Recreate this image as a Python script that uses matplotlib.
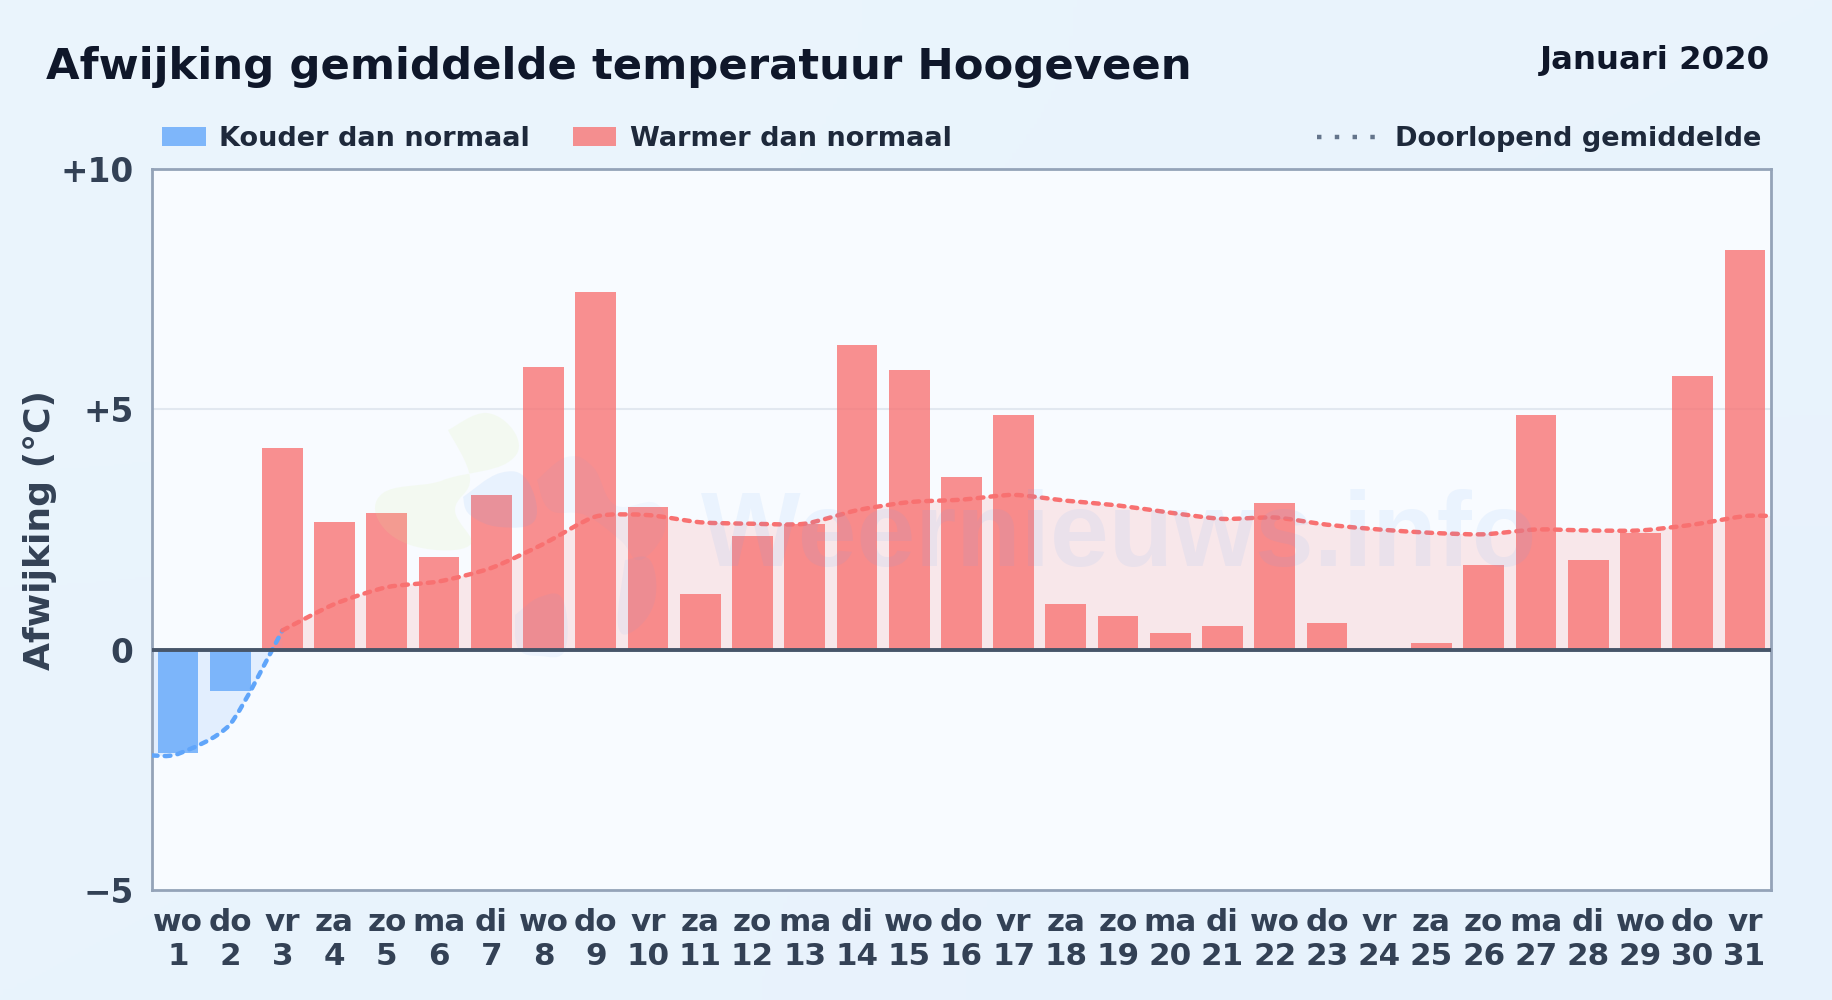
import numpy as np
import matplotlib
matplotlib.use('Agg')
import matplotlib.pyplot as plt
from matplotlib.path import Path
from matplotlib.patches import PathPatch, Rectangle
from matplotlib.lines import Line2D

# data
days = list(range(1, 32))
weekdays = ['wo', 'do', 'vr', 'za', 'zo', 'ma', 'di', 'wo', 'do', 'vr', 'za', 'zo', 'ma', 'di', 'wo', 'do',
            'vr', 'za', 'zo', 'ma', 'di', 'wo', 'do', 'vr', 'za', 'zo', 'ma', 'di', 'wo', 'do', 'vr']
deviation = [-2.16, -0.87, 4.2, 2.65, 2.85, 1.92, 3.22, 5.89, 7.44, 2.97, 1.15, 2.37, 2.62, 6.34, 5.82, 3.6,
             4.89, 0.95, 0.7, 0.35, 0.5, 3.05, 0.55, 0.0, 0.13, 1.77, 4.89, 1.86, 2.42, 5.69, 8.32]
running_x = [0.5] + days + [31.5]
running = [-2.2, -2.17, -1.55, 0.4, 0.95, 1.3, 1.42, 1.7, 2.2, 2.77, 2.8, 2.65, 2.62, 2.62, 2.9, 3.07, 3.12,
           3.22, 3.1, 3.0, 2.85, 2.72, 2.75, 2.6, 2.5, 2.43, 2.4, 2.5, 2.48, 2.48, 2.6, 2.78, 2.78]
yticks = [-5, 0, 5, 10]
ytick_labels = ['\u22125', '0', '+5', '+10']

RED = '#f87171'
BLUE = '#60a5fa'
W, H = 1832, 1000


def curve(xs, ys, t=0.12):
    # bezier through the points, Catmull-Rom style
    xs, ys = np.asarray(xs, float), np.asarray(ys, float)
    verts = [(xs[0], ys[0])]
    codes = [Path.MOVETO]
    n = len(xs)
    for i in range(n - 1):
        a, b = max(i - 1, 0), min(i + 2, n - 1)
        verts.append((xs[i] + (xs[i + 1] - xs[a]) * t, ys[i] + (ys[i + 1] - ys[a]) * t))
        verts.append((xs[i + 1] - (xs[b] - xs[i]) * t, ys[i + 1] - (ys[b] - ys[i]) * t))
        verts.append((xs[i + 1], ys[i + 1]))
        codes += [Path.CURVE4] * 3
    return verts, codes


def blob(pts, color, alpha):
    # closed soft shape given in pixel coordinates of the picture
    p = pts + pts[:1]
    verts, codes = curve([q[0] / W for q in p], [1 - q[1] / H for q in p], t=0.2)
    ax.add_patch(PathPatch(Path(verts, codes), fc=color, ec='none', alpha=alpha,
                           transform=fig.transFigure, zorder=3.5))


fig = plt.figure(figsize=(18.32, 10), dpi=100)

# page background
bg = fig.add_axes([0, 0, 1, 1], zorder=-1)
bg.imshow([[0, 0.5], [0.5, 1]], extent=[0, 1, 0, 1], aspect='auto', interpolation='bicubic',
          cmap=matplotlib.colors.LinearSegmentedColormap.from_list('bg', ['#ebf5fd', '#e7f2fc']))
bg.axis('off')

ax = fig.add_axes([151.8 / W, 1 - 890 / H, (1771 - 151.8) / W, (890 - 169) / H])
ax.set_facecolor('#f8fbff')
ax.set_xlim(0.5, 31.5)
ax.set_ylim(-5, 10)

# area under the running mean
split = running_x.index(3) + 1
for part, col in ((slice(0, split), BLUE), (slice(split - 1, None), RED)):
    verts, codes = curve(running_x[part], running[part])
    xs = running_x[part]
    fill_v = verts + [(xs[-1], 0), (xs[0], 0), (xs[0], 0)]
    fill_c = codes + [Path.LINETO, Path.LINETO, Path.CLOSEPOLY]
    ax.add_patch(PathPatch(Path(fill_v, fill_c), fc=col, ec='none', alpha=0.14, zorder=1))

colors = [BLUE if v < 0 else RED for v in deviation]
ax.bar(days, deviation, width=0.78, color=colors, alpha=0.78, zorder=2)

for part, col in ((slice(0, split), BLUE), (slice(split - 1, None), RED)):
    verts, codes = curve(running_x[part], running[part])
    ax.add_patch(PathPatch(Path(verts, codes), fc='none', ec=col, lw=3.2, capstyle='round',
                           linestyle=(0, (1.3, 1.6)), zorder=4))

ax.axhline(0, color='#475569', lw=2.8, zorder=5)
ax.axhline(5, color='#e2e8f0', lw=1.5, zorder=0.5)

for s in ax.spines.values():
    s.set_color('#94a3b8')
    s.set_linewidth(2)

ax.set_xticks(days)
ax.set_xticklabels([f'{w}\n{d}' for w, d in zip(weekdays, days)], fontsize=22.3, fontweight='bold',
                   color='#334155', linespacing=1.2)
ax.set_yticks(yticks)
ax.set_yticklabels(ytick_labels, fontsize=23.6, fontweight='bold', color='#334155')
ax.tick_params(axis='x', length=0, pad=13)
ax.tick_params(axis='y', length=0, pad=13)

# watermark
blob([(448, 430), (487, 413), (517, 437), (507, 463), (453, 477), (433, 483), (383, 493), (380, 523), (417, 547),
      (470, 545), (455, 510), (470, 478)], '#d6f09a', 0.13)
blob([(463, 497), (500, 473), (527, 480), (535, 520), (500, 527), (470, 515)], '#60a5fa', 0.10)
blob([(537, 480), (567, 457), (593, 467), (615, 505), (655, 503), (665, 530), (640, 560), (620, 540), (585, 515),
      (550, 510)], '#60a5fa', 0.05)
blob([(625, 560), (650, 560), (655, 600), (635, 630), (618, 625)], '#60a5fa', 0.07)
blob([(515, 615), (540, 597), (563, 600), (565, 650), (540, 656), (518, 648)], '#60a5fa', 0.07)
fig.text(701 / W, 1 - 566 / H, 'Weernieuws.info', fontsize=76, family='Liberation Sans', fontweight='bold',
         color='#60a5fa', alpha=0.09, va='baseline', ha='left', zorder=6)

# title and legend
fig.text(46 / W, 1 - 67 / H, 'Afwijking gemiddelde temperatuur Hoogeveen', fontsize=31.25, fontweight='bold',
         color='#0f172a', va='center')
fig.text(1770 / W, 1 - 61 / H, 'Januari 2020', fontsize=23.3, fontweight='bold', color='#0f172a', va='center',
         ha='right')
fig.text(40 / W, 1 - 530 / H, 'Afwijking (°C)', fontsize=26, fontweight='bold', color='#334155', rotation=90,
         va='center', ha='center')

fig.add_artist(Rectangle((162 / W, 1 - 146 / H), 44 / W, 19 / H, transform=fig.transFigure, fc=BLUE, alpha=0.78, ec='none'))
fig.text(219 / W, 1 - 138.5 / H, 'Kouder dan normaal', fontsize=19.5, fontweight='bold', color='#1e293b', va='center')
fig.add_artist(Rectangle((573 / W, 1 - 146 / H), 43 / W, 19 / H, transform=fig.transFigure, fc=RED, alpha=0.78, ec='none'))
fig.text(630 / W, 1 - 138.5 / H, 'Warmer dan normaal', fontsize=19.5, fontweight='bold', color='#1e293b', va='center')
fig.add_artist(Line2D([1317 / W, 1376 / W], [1 - 137 / H, 1 - 137 / H], transform=fig.transFigure, color='#64748b',
                      lw=3.2, linestyle=(0, (1, 3)), dash_capstyle='butt'))
fig.text(1395 / W, 1 - 138.5 / H, 'Doorlopend gemiddelde', fontsize=19.5, fontweight='bold', color='#1e293b', va='center')

fig.savefig('out.png', dpi=100)
